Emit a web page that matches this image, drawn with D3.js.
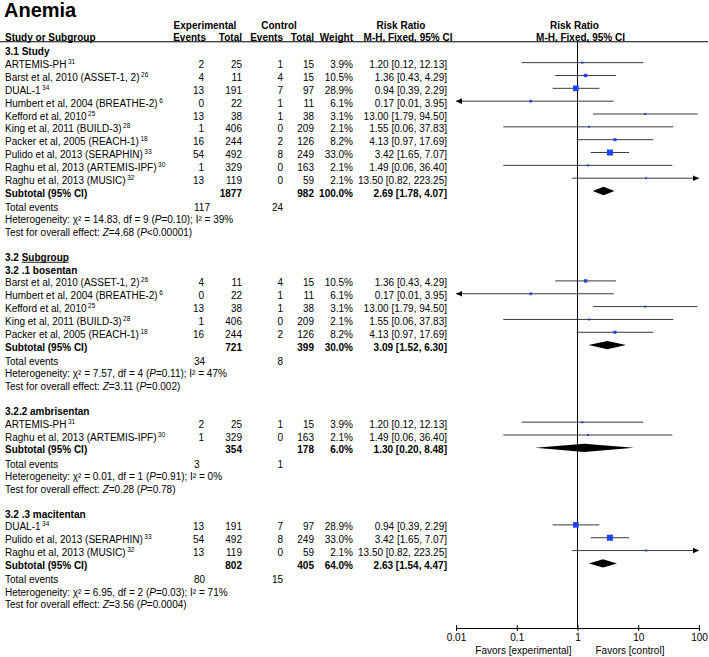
<!DOCTYPE html>
<html>
<head>
<meta charset="utf-8">
<script src="https://cdn.jsdelivr.net/npm/d3@7/dist/d3.min.js"></script>
<style>
html,body{margin:0;padding:0;background:#fff;}
svg{display:block;}
text{font-family:"Liberation Sans",Arial,Helvetica,sans-serif;font-size:10px;fill:#000;}
</style>
</head>
<body>
<svg id="chart" width="709" height="657"></svg>
<script>
// ---------------- DATA ----------------
const chartTitle = "Anemia";
const studyNames = [
  "ARTEMIS-PH", "Barst et al, 2010 (ASSET-1, 2)", "DUAL-1", "Humbert et al, 2004 (BREATHE-2)",
  "Kefford et al, 2010", "King et al, 2011 (BUILD-3)", "Packer et al, 2005 (REACH-1)",
  "Pulido et al, 2013 (SERAPHIN)", "Raghu et al, 2013 (ARTEMIS-IPF)", "Raghu et al, 2013 (MUSIC)"
];
const studyRefs = ["31", "26", "34", "6", "25", "28", "18", "33", "30", "32"];
const expEvents  = [2, 4, 13, 0, 13, 1, 16, 54, 1, 13];
const expTotal   = [25, 11, 191, 22, 38, 406, 244, 492, 329, 119];
const ctrlEvents = [1, 4, 7, 1, 1, 0, 2, 8, 0, 0];
const ctrlTotal  = [15, 15, 97, 11, 38, 209, 126, 249, 163, 59];
const weights    = [3.9, 10.5, 28.9, 6.1, 3.1, 2.1, 8.2, 33.0, 2.1, 2.1];
const riskRatio  = [1.20, 1.36, 0.94, 0.17, 13.00, 1.55, 4.13, 3.42, 1.49, 13.50];
const ciLow      = [0.12, 0.43, 0.39, 0.01, 1.79, 0.06, 0.97, 1.65, 0.06, 0.82];
const ciHigh     = [12.13, 4.29, 2.29, 3.95, 94.50, 37.83, 17.69, 7.07, 36.40, 223.25];

const groupTitles  = ["3.1 Study", "3.2 .1 bosentan", "3.2.2 ambrisentan", "3.2 .3 macitentan"];
const groupMembers = [[0,1,2,3,4,5,6,7,8,9], [1,3,4,5,6], [0,8], [2,7,9]];
const subExpTotal  = [1877, 721, 354, 802];
const subCtrlTotal = [982, 399, 178, 405];
const subWeight    = [100.0, 30.0, 6.0, 64.0];
const subRR        = [2.69, 3.09, 1.30, 2.63];
const subLow       = [1.78, 1.52, 0.20, 1.54];
const subHigh      = [4.07, 6.30, 8.48, 4.47];
const totExpEvents = [117, 34, 3, 80];
const totCtrlEvents= [24, 8, 1, 15];
const hetChi2      = ["14.83", "7.57", "0.01", "6.95"];
const hetDf        = [9, 4, 1, 2];
const hetP         = ["0.10", "0.11", "0.91", "0.03"];
const hetI2        = [39, 47, 0, 71];
const zValue       = ["4.68", "3.11", "0.28", "3.56"];
const zP           = ["<0.00001", "=0.002", "=0.78", "=0.0004"];

const tickValues = [0.01, 0.1, 1, 10, 100];
const tickLabels = ["0.01", "0.1", "1", "10", "100"];
const favorLeft = "Favors [experimental]";
const favorRight = "Favors [control]";

// ---------------- LAYOUT ----------------
const svg = d3.select("#chart");
const x = d3.scaleLog().domain([0.01, 100]).range([456, 699]);
const rowBase = r => 55.3 + 12.84 * r;
const col = {name: 5, expEv: 204, expTot: 242, ctlEv: 283, ctlTot: 314, wt: 353, rr: 447, totExp: 194};
const axisY = 628, headerLineY = 41.8;
const blue = "#1e45f5";

// title
svg.append("text").attr("x", 4).attr("y", 17).text(chartTitle)
  .style("font-size", "20px").style("font-weight", "bold");

// headers
const hdr = (t, xx, yy, anchor) => svg.append("text").attr("x", xx).attr("y", yy)
  .attr("text-anchor", anchor).style("font-weight", "bold").text(t);
hdr("Experimental", 205, 28.5, "middle");
hdr("Control", 279, 28.5, "middle");
hdr("Risk Ratio", 401, 28.5, "middle");
hdr("Risk Ratio", x(1) - 3, 28.5, "middle");
hdr("Study or Subgroup", col.name, 40.5, "start");
hdr("Events", col.expEv + 2, 40.5, "end");
hdr("Total", col.expTot, 40.5, "end");
hdr("Events", col.ctlEv, 40.5, "end");
hdr("Total", col.ctlTot, 40.5, "end");
hdr("Weight", col.wt, 40.5, "end");
hdr("M-H, Fixed, 95% CI", 408, 40.5, "middle");
hdr("M-H, Fixed, 95% CI", x(1) + 3, 40.5, "middle");
svg.append("line").attr("x1", 0).attr("x2", 708).attr("y1", headerLineY).attr("y2", headerLineY)
  .attr("stroke", "#000").attr("stroke-width", 1.1);

// vertical line at RR = 1
svg.append("line").attr("x1", x(1)).attr("x2", x(1)).attr("y1", headerLineY).attr("y2", axisY)
  .attr("stroke", "#000").attr("stroke-width", 1);

// helpers
const fmt2 = v => v.toFixed(2);
const txt = (t, xx, yy, anchor, bold) => svg.append("text").attr("x", xx).attr("y", yy)
  .attr("text-anchor", anchor || "start").style("font-weight", bold ? "bold" : "normal").text(t);

function drawArrowHead(xx, yy, dir) {
  svg.append("path")
    .attr("d", `M${xx},${yy} L${xx - dir * 6},${yy - 2.8} L${xx - dir * 6},${yy + 2.8} Z`)
    .attr("fill", "#000");
}

function drawStudy(i, r) {
  const yb = rowBase(r);
  const t = svg.append("text").attr("x", col.name).attr("y", yb);
  t.append("tspan").text(studyNames[i]);
  t.append("tspan").attr("dx", 1.5).attr("dy", -4).style("font-size", "6.5px").text(studyRefs[i]);
  txt(expEvents[i], col.expEv, yb, "end");
  txt(expTotal[i], col.expTot, yb, "end");
  txt(ctrlEvents[i], col.ctlEv, yb, "end");
  txt(ctrlTotal[i], col.ctlTot, yb, "end");
  txt(weights[i].toFixed(1) + "%", col.wt, yb, "end");
  txt(`${fmt2(riskRatio[i])} [${fmt2(ciLow[i])}, ${fmt2(ciHigh[i])}]`, col.rr, yb, "end");
  // plot
  const ym = yb - 5.5;
  const [d0, d1] = x.domain();
  const lo = Math.max(ciLow[i], d0), hi = Math.min(ciHigh[i], d1);
  svg.append("line").attr("x1", x(lo)).attr("x2", x(hi)).attr("y1", ym).attr("y2", ym)
    .attr("stroke", "#3a3a3a").attr("stroke-width", 1);
  if (ciLow[i] <= d0) drawArrowHead(x(d0), ym, -1);
  if (ciHigh[i] > d1) drawArrowHead(x(d1), ym, 1);
  const s = Math.max(2, 1.05 * Math.sqrt(weights[i]));
  svg.append("rect").attr("x", x(riskRatio[i]) - s / 2).attr("y", ym - s / 2)
    .attr("width", s).attr("height", s).attr("fill", blue);
}

function drawGroup(g, r0) {
  let r = r0;
  txt(groupTitles[g], col.name, rowBase(r), "start", true);
  r++;
  groupMembers[g].forEach(i => { drawStudy(i, r); r++; });
  // subtotal
  let yb = rowBase(r);
  txt("Subtotal (95% CI)", col.name, yb, "start", true);
  txt(subExpTotal[g], col.expTot, yb, "end", true);
  txt(subCtrlTotal[g], col.ctlTot, yb, "end", true);
  txt(subWeight[g].toFixed(1) + "%", col.wt, yb, "end", true);
  txt(`${fmt2(subRR[g])} [${fmt2(subLow[g])}, ${fmt2(subHigh[g])}]`, col.rr, yb, "end", true);
  const ym = yb - 5.5;
  svg.append("path")
    .attr("d", `M${x(subLow[g])},${ym} L${x(subRR[g])},${ym - 4.2} L${x(subHigh[g])},${ym} L${x(subRR[g])},${ym + 4.2} Z`)
    .attr("fill", "#000");
  r++;
  yb = rowBase(r) + 1.5;
  txt("Total events", col.name, yb, "start");
  txt(totExpEvents[g], col.totExp, yb, "start");
  txt(totCtrlEvents[g], col.ctlEv, yb, "end");
  r++;
  yb = rowBase(r) + 1;
  const h = svg.append("text").attr("x", col.name).attr("y", yb);
  h.append("tspan").text(`Heterogeneity: χ² = ${hetChi2[g]}, df = ${hetDf[g]} (`);
  h.append("tspan").style("font-style", "italic").text("P");
  h.append("tspan").text(`=${hetP[g]}); I² = ${hetI2[g]}%`);
  r++;
  yb = rowBase(r) + 1;
  const z = svg.append("text").attr("x", col.name).attr("y", yb);
  z.append("tspan").text("Test for overall effect: ");
  z.append("tspan").style("font-style", "italic").text("Z");
  z.append("tspan").text(`=${zValue[g]} (`);
  z.append("tspan").style("font-style", "italic").text("P");
  z.append("tspan").text(`${zP[g]})`);
  r++;
  return r + 1; // blank row
}

let r = drawGroup(0, 0);
// 3.2 Subgroup header
{
  const yb = rowBase(r);
  const t = svg.append("text").attr("x", col.name).attr("y", yb).style("font-weight", "bold");
  t.append("tspan").text("3.2 ");
  const u = t.append("tspan").text("Subgroup");
  const full = t.node().getComputedTextLength();
  const uw = u.node().getComputedTextLength();
  svg.append("line").attr("x1", col.name + full - uw).attr("x2", col.name + full)
    .attr("y1", yb + 1.5).attr("y2", yb + 1.5).attr("stroke", "#000").attr("stroke-width", 0.9);
  r++;
}
r = drawGroup(1, r);
r = drawGroup(2, r);
r = drawGroup(3, r);

// axis
const axis = d3.axisBottom(x).tickValues(tickValues).tickFormat((d, i) => tickLabels[i]).tickSize(3).tickSizeOuter(0);
const ag = svg.append("g").attr("transform", `translate(0,${axisY})`).call(axis);
ag.select(".domain").attr("stroke", "#000");
ag.selectAll(".tick line").attr("y1", -3).attr("y2", 3).attr("stroke", "#000");
ag.selectAll(".tick text").attr("y", 6).attr("dy", "0.71em")
  .style("font-family", "'Liberation Sans',Arial,sans-serif").style("font-size", "10px").attr("fill", "#000");
txt(favorLeft, x(1) - 6, 654, "end");
txt(favorRight, x(1) + 18, 654, "start");
</script>
</body>
</html>
